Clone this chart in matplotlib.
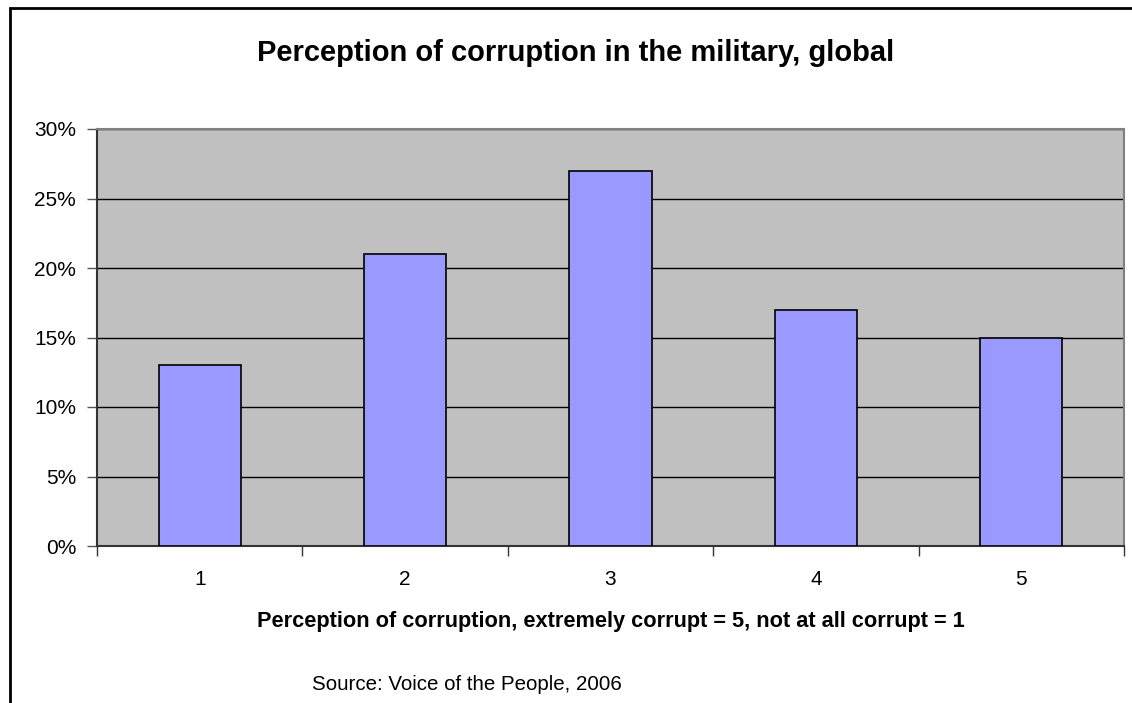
import numpy as np
import matplotlib.pyplot as plt
from matplotlib.patches import Rectangle
from matplotlib.ticker import FuncFormatter

plt.rcParams['font.family'] = ['Liberation Sans', 'DejaVu Sans']

categories = ['1', '2', '3', '4', '5']
shares = [13, 21, 27, 17, 15]
yticks = [0, 5, 10, 15, 20, 25, 30]

W, H = 1132, 703
fig = plt.figure(figsize=(W / 100, H / 100), dpi=100)

# outer chart frame (left and top visible)
fig.patches.append(Rectangle((10 / W, -0.1), 1.2, (H - 8) / H + 0.1, transform=fig.transFigure,
                             fill=False, edgecolor='black', linewidth=2))

ax = fig.add_axes([97 / W, (H - 546) / H, (1124 - 97) / W, (546 - 129) / H])
ax.set_facecolor('#c0c0c0')

x = np.arange(len(categories))
ax.bar(x, shares, width=0.4, color='#9999ff', edgecolor='black', linewidth=1.2, zorder=3)

ax.set_xlim(-0.5, len(categories) - 0.5)
ax.set_ylim(0, 30)
ax.set_yticks(yticks)
ax.yaxis.set_major_formatter(FuncFormatter(lambda v, p: f'{v:.0f}%'))
ax.yaxis.grid(True, color='black', linewidth=1, zorder=1)
ax.set_axisbelow(True)

ax.set_xticks(x)
ax.set_xticklabels(categories)
ax.set_xticks(np.arange(len(categories) + 1) - 0.5, minor=True)
ax.tick_params(axis='x', which='major', length=0, pad=17, labelsize=15)
ax.tick_params(axis='x', which='minor', length=7, width=1, color='#333333')
ax.tick_params(axis='y', length=7, width=1, color='#555555', labelsize=15, pad=8)

for s in ('top', 'right'):
    ax.spines[s].set_color('#808080')
    ax.spines[s].set_linewidth(1.5)
for s in ('left', 'bottom'):
    ax.spines[s].set_color('#333333')
    ax.spines[s].set_linewidth(1.5)

fig.text(576 / W, 1 - 53 / H, 'Perception of corruption in the military, global',
         ha='center', va='center', fontsize=21, fontweight='bold')
fig.text(611 / W, 1 - 621 / H,
         'Perception of corruption, extremely corrupt = 5, not at all corrupt = 1',
         ha='center', va='center', fontsize=15.7, fontweight='bold')
fig.text(467 / W, 1 - 684 / H, 'Source: Voice of the People, 2006',
         ha='center', va='center', fontsize=14.8)

fig.savefig('out.png', dpi=100)
